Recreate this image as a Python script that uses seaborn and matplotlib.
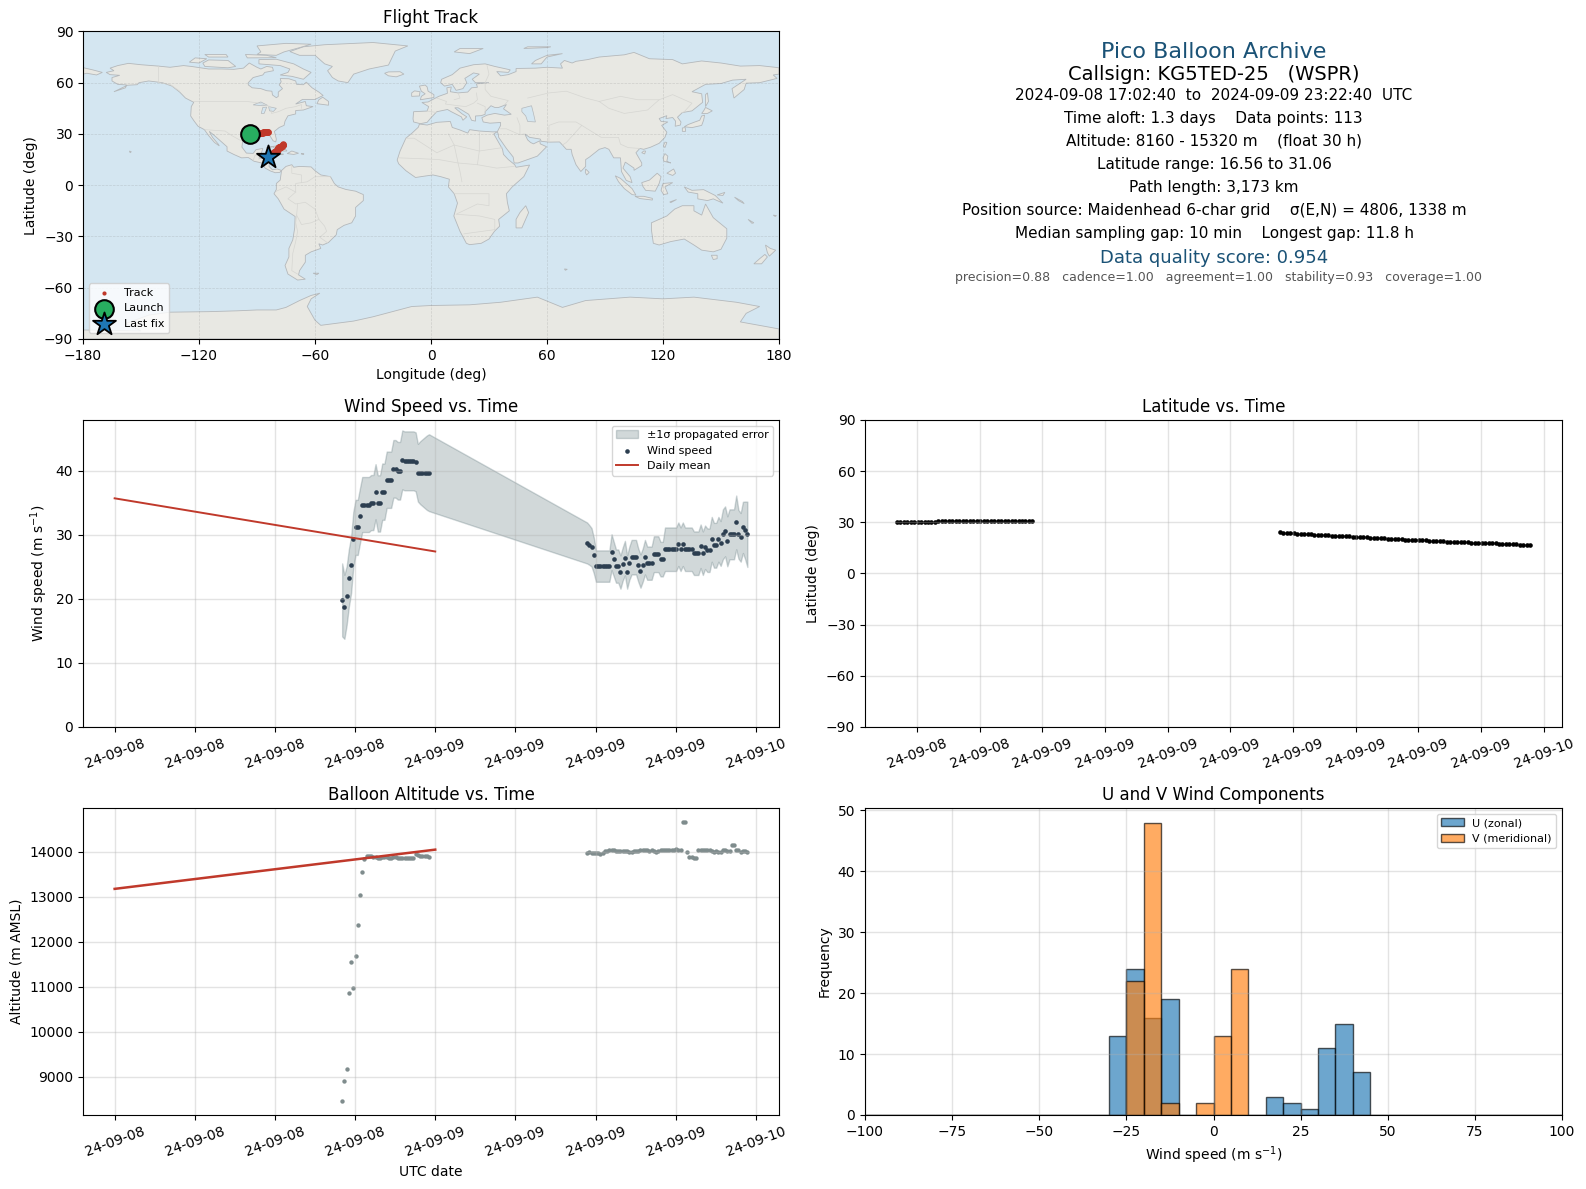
import matplotlib
matplotlib.use('Agg')
import matplotlib.pyplot as plt
import matplotlib.dates as mdates
import numpy as np
import pandas as pd
import seaborn as sns

# minutes after 2024-09-08 00:00 UTC
minutes = [1022, 1032, 1042, 1052, 1062, 1072, 1082, 1092, 1102, 1112, 1122, 1132, 1142, 1152, 1162, 1172, 1182, 1192, 1202, 1212,
           1222, 1232, 1242, 1252, 1262, 1272, 1282, 1292, 1302, 1312, 1322, 1332, 1342, 1352, 1362, 1372, 1382, 1392, 1402, 1412,
           2122, 2132, 2142, 2152, 2162, 2172, 2182, 2192, 2202, 2212, 2222, 2232, 2242, 2252, 2262, 2272, 2282, 2292, 2302, 2312,
           2322, 2332, 2342, 2352, 2362, 2372, 2382, 2392, 2402, 2412, 2422, 2432, 2442, 2452, 2462, 2472, 2482, 2492, 2502, 2512,
           2522, 2532, 2542, 2552, 2562, 2572, 2582, 2592, 2602, 2612, 2622, 2632, 2642, 2652, 2662, 2672, 2682, 2692, 2702, 2712,
           2722, 2732, 2742, 2752, 2762, 2772, 2782, 2792, 2802, 2812, 2822, 2832, 2842]

wind_speed = [19.84, 18.76, 20.47, 23.26, 25.27, 29.3, 31.16, 31.16, 33.0, 34.73, 34.73, 34.73, 34.73, 35.04, 35.04, 36.74, 34.9, 34.9, 36.74, 36.74,
              38.6, 38.6, 38.6, 40.3, 40.3, 40.0, 40.0, 41.7, 41.55, 41.55, 41.55, 41.55, 41.55, 41.4, 39.7, 39.7, 39.7, 39.7, 39.7, 39.7,
              28.73, 28.42, 28.06, 26.82, 25.12, 25.12, 25.12, 25.12, 25.12, 25.12, 25.12, 27.29, 26.2, 25.12, 25.12, 24.19, 25.43, 26.36, 24.19, 25.58,
              26.51, 26.51, 26.51, 25.27, 24.34, 25.27, 26.51, 25.58, 25.58, 25.58, 26.98, 26.98, 26.98, 26.2, 26.2, 27.75, 27.75, 27.75, 27.75, 27.75,
              27.75, 28.53, 27.75, 28.53, 27.75, 27.75, 27.75, 27.75, 27.13, 27.13, 27.13, 28.22, 27.13, 28.06, 27.6, 27.6, 29.3, 28.37, 28.37, 29.3,
              28.65, 30.08, 30.54, 28.99, 30.08, 30.08, 30.08, 31.94, 30.08, 29.61, 31.16, 30.7, 30.08]

wind_sigma = [5.7, 5.0, 4.6, 4.5, 4.4, 4.3, 4.3, 4.3, 4.3, 4.3, 4.3, 4.3, 4.3, 4.3, 4.3, 4.3, 4.4, 4.4, 4.4, 4.4,
              4.4, 4.4, 4.4, 4.5, 4.5, 4.5, 4.5, 4.6, 4.6, 4.6, 4.6, 4.6, 4.6, 4.6, 4.5, 4.9, 5.2, 5.5, 5.8, 6.0,
              3.2, 3.1, 3.0, 2.8, 2.45, 2.45, 2.45, 2.45, 2.45, 2.45, 2.45, 2.8, 2.7, 2.6, 2.6, 2.6, 2.6, 2.7, 2.6, 2.6,
              2.7, 2.7, 2.7, 2.6, 2.6, 2.6, 2.7, 2.6, 2.6, 2.6, 2.8, 2.8, 2.8, 2.7, 2.7, 3.4, 3.4, 3.4, 3.4, 3.4,
              3.4, 3.4, 3.4, 3.4, 3.4, 3.4, 3.4, 3.4, 3.4, 3.4, 3.4, 3.4, 3.4, 3.4, 3.4, 3.4, 3.5, 3.5, 3.5, 3.5,
              3.5, 3.9, 3.9, 3.9, 3.9, 3.9, 3.9, 4.2, 3.8, 3.8, 4.0, 4.5, 5.1]

altitude = [8465, 8910, 9177, 10866, 11555, 10977, 11689, 12378, 13044, 13555, 13844, 13918, 13904, 13904, 13896, 13881, 13859, 13859, 13889, 13889,
            13889, 13874, 13859, 13881, 13889, 13874, 13859, 13859, 13859, 13859, 13859, 13859, 13874, 13956, 13941, 13918, 13904, 13918, 13904, 13889,
            13978, 14000, 13978, 13978, 13978, 13978, 13956, 13978, 14015, 14030, 14037, 14037, 14037, 14015, 14015, 14015, 14015, 14015, 14030, 14007,
            14007, 14030, 14030, 14030, 14052, 14052, 14052, 14037, 14030, 14052, 14015, 14000, 14015, 14044, 14044, 14044, 14044, 14044, 14044, 14052,
            14074, 14052, 14052, 14667, 14667, 14000, 13896, 13889, 13867, 13859, 14044, 14044, 14044, 14044, 14044, 14044, 14015, 14000, 14015, 14000,
            14000, 14044, 14044, 14030, 14030, 14163, 14163, 14052, 14052, 14000, 14022, 14015, 14000]

latitude = [30.0, 30.0, 30.0, 30.0, 30.0, 30.0, 30.0, 30.0, 30.0, 30.0, 30.0, 30.0, 30.6, 30.6, 30.6, 30.6, 30.6, 30.6, 30.6, 30.6,
            30.6, 30.6, 30.6, 30.6, 30.6, 30.6, 30.6, 30.6, 31.06, 31.06, 31.06, 31.06, 31.06, 31.06, 31.06, 31.06, 31.06, 31.06, 31.06, 31.06,
            24.27, 23.68, 23.68, 23.68, 23.68, 23.18, 23.18, 23.18, 23.18, 23.18, 22.49, 22.49, 22.49, 22.49, 22.49, 22.09, 22.09, 22.09, 22.09, 22.09,
            22.09, 21.5, 21.5, 21.5, 21.5, 21.5, 20.71, 20.71, 20.71, 20.71, 20.71, 20.12, 20.12, 20.12, 20.12, 20.12, 19.63, 19.63, 19.63, 19.63,
            19.63, 19.63, 19.63, 19.03, 19.03, 19.03, 19.03, 19.03, 18.44, 18.44, 18.44, 18.44, 18.44, 18.44, 18.44, 17.95, 17.95, 17.95, 17.95, 17.95,
            17.95, 17.95, 17.95, 17.35, 17.35, 17.35, 17.35, 17.35, 17.35, 16.76, 16.76, 16.76, 16.56]

longitude = [-93.4, -93.2, -93.0, -92.7, -92.5, -92.2, -92.0, -91.8, -91.5, -91.3, -91.1, -90.8, -90.6, -90.4, -90.1, -89.9, -89.7, -89.4, -89.2, -89.0,
             -88.7, -88.5, -88.3, -88.0, -87.8, -87.6, -87.3, -87.1, -86.9, -86.6, -86.4, -86.2, -85.9, -85.7, -85.5, -85.2, -85.0, -84.8, -84.5, -84.3,
             -76.4, -76.5, -76.6, -76.7, -76.8, -77.0, -77.1, -77.2, -77.3, -77.4, -77.5, -77.6, -77.7, -77.9, -78.0, -78.1, -78.2, -78.3, -78.4, -78.5,
             -78.6, -78.8, -78.9, -79.0, -79.1, -79.2, -79.3, -79.4, -79.5, -79.7, -79.8, -79.9, -80.0, -80.1, -80.2, -80.3, -80.4, -80.6, -80.7, -80.8,
             -80.9, -81.0, -81.1, -81.2, -81.3, -81.5, -81.6, -81.7, -81.8, -81.9, -82.0, -82.1, -82.2, -82.4, -82.5, -82.6, -82.7, -82.8, -82.9, -83.0,
             -83.1, -83.3, -83.4, -83.5, -83.6, -83.7, -83.8, -83.9, -84.0, -84.2, -84.3, -84.4, -84.5]

# daily means (two dates)
daily_dates = ['2024-09-08', '2024-09-09']
daily_wind = [35.7, 27.4]
daily_alt = [13180, 14052]

# histogram counts on 5 m/s bins
hist_edges = [-100, -95, -90, -85, -80, -75, -70, -65, -60, -55, -50, -45, -40, -35, -30, -25, -20, -15, -10, -5,
              0, 5, 10, 15, 20, 25, 30, 35, 40, 45, 50, 55, 60, 65, 70, 75, 80, 85, 90, 95, 100]
u_bins = [-27.5, -22.5, -17.5, -12.5, 17.5, 22.5, 27.5, 32.5, 37.5, 42.5]
u_counts = [13, 24, 16, 19, 3, 2, 1, 11, 15, 7]
v_bins = [-22.5, -17.5, -12.5, -2.5, 2.5, 7.5]
v_counts = [22, 48, 2, 2, 13, 24]

# rough coast outlines (lon, lat)
land_polys = [
    # North America
    [(-168,66),(-164,67),(-166,68.5),(-162,70),(-156.5,71.3),(-150,70.5),(-141,69.7),(-135,69),(-128,70),(-124,69.5),(-115,68),(-108,68),(-102,67.8),(-97,68.5),(-94,71.5),(-90,69),(-88,68),(-85,69.5),(-82,69),(-81.5,67),(-86,66),(-87,64.5),(-92,63),(-94.5,60),(-94.5,58.7),(-92.5,57),(-88,56.5),(-85,55.3),(-82.3,55),(-82,52.8),(-80,51.2),(-79,52),(-79,54.5),(-76.8,56.5),(-78.5,58.7),(-77.5,60.5),(-78,62.4),(-73.5,62.3),(-70,61),(-69.5,59),(-66,58.8),(-64.5,60.3),(-61.5,57),(-58,54.5),(-55.8,52.5),(-60,50.2),(-66.5,50.2),(-70,47.5),(-65,49),(-64.5,46.5),(-61,46),(-66,44),(-70,43.7),(-70,41.7),(-74,40.6),(-75.5,37.5),(-76,35),(-78.5,33.8),(-81,31.5),(-80,27),(-80.3,25.3),(-81.7,26),(-82.8,28),(-84,30),(-86,30.4),(-89.5,30.2),(-89.3,29),(-93.8,29.7),(-97,28),(-97.5,25),(-97.8,22.3),(-95.5,18.8),(-92,18.6),(-90.5,20.8),(-87,21.5),(-88,17.8),(-88.8,15.8),(-84,15.8),(-83.3,14.9),(-83.8,11),(-82,9),(-79.5,9.5),(-77.3,8.6),(-78.2,7.5),(-80.5,7.3),(-83,8.3),(-85.8,10),(-87.5,13),(-91.5,14),(-94.5,16.2),(-98,16),(-102,18),(-105.5,20),(-105.5,22.5),(-109,26),(-112.5,29.5),(-114.7,31.5),(-113,28),(-110,24),(-109.5,23),(-112,25),(-115,29),(-117.2,32.5),(-120.5,34.5),(-122.5,37.5),(-124.3,40.5),(-124,46),(-122.7,48.5),(-127,51),(-130,54.5),(-134,58),(-139,60),(-146,61),(-151,60),(-152,58.8),(-157,58.5),(-164,54.7),(-158,57),(-157.5,58.7),(-162,59),(-165,61),(-165,63),(-161,64.3),(-166,64.7)],
    # Greenland
    [(-73,78.2),(-68,76),(-60,76),(-55,71),(-51,69.5),(-53.5,67),(-51,63),(-48,61),(-43,60),(-40,65),(-32,68),(-22,70.3),(-20,75),(-18.5,78.5),(-12,81.5),(-30,83.5),(-55,82.2),(-66,81)],
    # Canadian arctic
    [(-62,66),(-66,62),(-72,63.7),(-78,64.5),(-74,66),(-73,68),(-78,70),(-89,71),(-89,73.5),(-80,73.7),(-71,71),(-66,68)],
    [(-117,69.5),(-105,68.7),(-101,69.5),(-105,73),(-115,73.3),(-118,71.5)],
    [(-125,72),(-120,71.5),(-116,74),(-122,74.5)],
    [(-90,76.5),(-80,76),(-76,78),(-68,80.5),(-62,82.5),(-75,83),(-90,81.5),(-88,78)],
    [(-95,74.5),(-80,74.6),(-85,76),(-96,76.5)],
    [(-115,75),(-105,75),(-106,76.5),(-117,76.5)],
    [(-59,47.7),(-53,46.8),(-53,49),(-56,51.5),(-58,50)],
    # South America
    [(-77.3,8.6),(-75,11),(-72,12),(-71,10.5),(-68,11),(-62,10.7),(-60,8.5),(-57,6),(-52,5),(-50,1),(-48,-1),(-44,-2.5),(-39,-3.5),(-35,-5.5),(-35,-9),(-39,-13),(-39,-18),(-41,-22),(-45,-23.5),(-48.5,-26),(-49,-29),(-53,-33.5),(-56,-35),(-58,-34.3),(-57,-37),(-62,-39),(-65,-41),(-65,-45),(-68,-50),(-68.5,-52.5),(-65,-55),(-69,-55.5),(-74,-52),(-75.5,-47),(-73.5,-42),(-73.5,-37),(-71.5,-32),(-70.5,-25),(-70.3,-18.3),(-76,-14),(-79,-8),(-81.2,-5),(-80,-2.5),(-80,1),(-78,3),(-77.5,7)],
    # Africa
    [(-6,35.8),(-2,35.2),(3,36.8),(10,37.3),(11,33.8),(15,32.3),(19,30.5),(20,32.5),(25,31.7),(32,31.2),(34.3,31.3),(32.5,30),(34,27),(37,21),(37.5,18),(40,15),(43.3,12),(44,10.5),(51,11.8),(48,5),(42,-1),(39,-5),(39.5,-10),(40.5,-15),(35,-20),(35.5,-24),(32.8,-27),(30,-31.5),(26,-34),(20,-34.8),(18.3,-34),(15,-27),(11.8,-18),(13.7,-10.5),(12,-5),(9,-1),(9.5,3.5),(5,5),(1,6),(-4,5.2),(-8,4.5),(-13,8.5),(-16.7,12.5),(-17.5,14.7),(-16,20),(-13,27.5),(-9.8,30.5),(-6.5,34)],
    # Eurasia
    [(-9,37),(-9.3,38.8),(-9,43),(-2,43.4),(-1.2,46),(-4.7,48.4),(-1.5,48.7),(1.5,50.5),(4,52),(8.5,53.8),(8.2,57),(10.5,57.5),(10,54.7),(14,54),(19,54.5),(21,57),(24,57.3),(23.5,59.3),(30,60),(23,60),(21.3,62),(25,65),(22,65.7),(17.5,62.5),(18.5,60),(16.5,56.5),(13,55.5),(11,59),(7,58),(5,60),(5.5,62),(11,64.7),(15,68.5),(22,70.5),(28,71),(33,69.5),(41,67.5),(40,66),(34,66.5),(36,64),(40,64.7),(44,66.5),(44,68.3),(54,68.5),(60,69),(68,68.5),(67,71),(69,73),(73,71.5),(75,72.5),(81,73.5),(87,75),(100,76.3),(105,77.7),(113,74),(125,73.5),(130,71),(140,72.7),(150,71.5),(160,69.7),(170,70),(178,69),(180,68.7),(180,65),(177,64.5),(179,62.5),(170,60),(163,59.7),(162,56),(156.7,51),(155.7,56.5),(163,62),(156,61.5),(150,59.5),(142,59),(135,54.7),(140,53.5),(140.5,48.5),(135,43.5),(130,42.5),(127.5,39.8),(129.3,37),(129,35.2),(126.3,34.5),(126.5,37.5),(125,39.6),(121.5,39),(122,40.7),(118,39),(119,37.3),(122.5,37),(119.3,35),(122,31),(121,28),(118,24.5),(113.5,22.2),(110,21),(108,21.5),(106,19),(109,13),(109,11.5),(105,8.7),(105,10),(100.5,13.5),(99.3,10),(103,5),(104,1.5),(101,2.8),(98.5,8),(98,16),(94.5,16),(92,21),(90,22),(87,21),(82,16.5),(80,15),(80,11),(77.5,8),(75,12),(73,18),(72.5,21),(70,21),(68,23.5),(66.5,25.3),(61,25.2),(57,25.7),(56.5,27),(51,28),(48.5,30),(50,26.5),(51.5,25),(53,24.2),(56.3,26),(56.5,24.2),(59.8,22.5),(55,17),(45,13),(43,13),(42.5,16.5),(39,21.5),(35,28),(34.9,29.5),(34.3,31.3),(36,35),(36,36.7),(30.5,36.3),(27,37),(26.3,39.5),(29,41),(33,42),(38,41),(41.5,41.5),(37.5,44.7),(39,47.2),(35,45.5),(33,45.5),(31,46.5),(28,43),(28,41.5),(26,40.7),(23,40.5),(23,37.5),(21,38),(19.5,41.5),(14,45.3),(12.3,45.3),(16,41.8),(18.5,40),(16.5,38),(15.7,40),(10.5,43),(8.5,44.3),(3,43),(0,39.5),(-2,36.8),(-5.5,36)],
    [(-180,68.8),(-175,67.5),(-170,66),(-173,64.5),(-178,65.5),(-180,65)],
    # islands
    [(-5.5,50),(1.5,51.3),(1.5,53),(-1.5,55),(-2,57.5),(-3,58.6),(-6,58),(-5,55),(-3,53.5),(-5,52)],
    [(-10,52),(-6,52.2),(-5.7,54.7),(-8.5,55.2),(-10,54)],
    [(-24,65.5),(-22,64),(-18,63.4),(-14,65),(-16,66.4),(-22,66.3)],
    [(-85,22),(-80,23),(-75,20.7),(-74.5,20),(-78,20),(-82,22.5)],
    [(-74.4,18.5),(-72,20),(-68.5,18.7),(-71,18)],
    [(-78.3,18.4),(-76.3,18.2),(-77,17.8)],
    [(-67.2,18.4),(-65.7,18.4),(-66,18)],
    [(-156,20),(-155,19.6),(-155.6,19)],
    [(131,34.2),(135,33.7),(140,35),(141,38),(141.5,41),(140,40.5),(139,38),(136.5,37),(133,35.5)],
    [(140,42),(143,42),(145.5,43.5),(142,45.5),(141,43.5)],
    [(130,31.5),(131.7,31.5),(131.5,33.7),(130,33.5)],
    [(142,46),(143.5,49),(143,54),(142,53),(142,49)],
    [(120.2,23),(121,22),(122,25),(121,25.2)],
    [(109,19),(110.5,18.3),(111,20),(110,20)],
    [(80,9.5),(81.8,7.5),(80.5,6),(79.8,7.5)],
    [(95.3,5.5),(98,4),(104,-2),(106,-5.8),(104,-5.5),(100,-2),(97,2)],
    [(105.5,-6.5),(110,-6.5),(114.5,-7.7),(114.5,-8.7),(108,-7.8)],
    [(109,1.5),(113,3),(117,7),(119,5),(118,1),(116,-3.5),(111,-3),(109.5,-0.5)],
    [(120,1),(125,1.5),(121,-1),(122.5,-5),(120.3,-5.5),(119,-3)],
    [(131,-1),(135,-3),(141,-2.6),(147,-6),(151,-10.5),(146,-8),(143,-9),(138,-8),(138,-5),(133,-4)],
    [(120,16),(121,18.5),(122.5,17),(122,14),(124,13),(120.5,14)],
    [(122,7),(125.5,9.5),(126.5,7),(125,5.7)],
    [(123.5,-9.8),(127,-8.4),(124,-10.2)],
    [(148,-5.7),(152,-4.2),(151,-6)],
    [(157,-7),(161,-9.5),(162,-10.8),(159,-9)],
    [(164,-20),(167,-22),(166,-22.3)],
    [(177,-17.5),(178.7,-17.8),(178,-18.3)],
    [(69,-49),(70.5,-49.2),(69.5,-49.8)],
    [(114,-22),(122,-18),(126,-14),(130,-12),(136,-12),(136,-15),(140,-17.5),(142,-11),(146,-19),(153,-25.5),(153,-31),(150,-37.5),(146,-39),(140,-38),(136,-35),(131,-31.5),(124,-33),(118,-35),(115,-34),(114,-26)],
    [(145,-41),(148,-41),(148,-43),(146,-43.5)],
    [(173,-35),(175.5,-37),(178.3,-38),(175,-41.5),(174,-39.5)],
    [(172.7,-40.5),(174,-42),(171,-46),(167,-46),(170,-43)],
    [(49,-12),(50.5,-16),(47,-25),(44,-25),(44,-20),(46,-16)],
    [(52,71),(57,71),(60,75),(68,77),(60,76),(54,73)],
    [(12,78),(20,77),(27,80),(15,80)],
    [(48,80),(60,80.5),(62,81),(50,81)],
    [(-61,-51.5),(-58,-51.5),(-59,-52.3)],
    # Antarctica
    [(-180,-90),(-180,-84.7),(-150,-85.3),(-158,-81),(-146,-76),(-135,-74.3),(-115,-74),(-100,-73.5),(-90,-73),(-80,-73),(-75,-71.5),(-68,-67.5),(-62,-64.5),(-57.5,-63.2),(-62,-66.5),(-64,-71),(-62,-75),(-60,-79),(-57,-82),(-40,-79.5),(-30,-77),(-20,-74),(-10,-71),(0,-70.4),(20,-70),(36,-68.5),(55,-65.5),(68,-71.5),(80,-67.5),(103,-65.5),(120,-66.5),(136,-65.5),(158,-68.5),(170,-71),(163,-75),(160,-80),(180,-84.1),(180,-90)],
]

lake_polys = [
    [(47,45),(52,46.5),(53,42),(54,37),(50,37.3),(49,40.5),(47,43)],
    [(-92,47),(-88,48.7),(-84.5,46.7),(-87,46.5)],
    [(-87.8,42),(-86.3,42),(-85,45.7),(-87,45.5)],
    [(-84,46),(-80,45),(-81.5,43.2),(-83.5,43.5)],
]

border_lines = [
    [(-123,49),(-95,49),(-89,48),(-83,46),(-82.5,42),(-79,43),(-75,45),(-70,46),(-67,47.2),(-67,45)],
    [(-117,32.5),(-106.5,31.7),(-103,29),(-99,26.5),(-97.3,26)],
    [(-141,69.7),(-141,60),(-135,59),(-130,55)],
    [(-92,14.5),(-91,17.5),(-89,17.8),(-89,15)],
    [(-52,5),(-60,5),(-64,2),(-70,1),(-70,-4),(-74,-8),(-70,-11),(-65,-10),(-60,-14),(-58,-20),(-55,-24),(-54,-27),(-57.5,-30.5),(-53.5,-33.7)],
    [(-69.5,-17.5),(-70,-22),(-69,-27),(-70,-33),(-71.5,-40),(-72,-50),(-69,-52)],
    [(-69,-11),(-69.5,-17.5),(-67,-23),(-62,-22),(-58,-20)],
    [(-72,11.5),(-72,7),(-67,6),(-67,1.5)],
    [(-80,-3.5),(-75,-1),(-70,-4)],
    [(-13,27.5),(-8.7,27.5),(3,19),(12,23.5),(25,20),(37,22)],
    [(9,30),(12,23.5),(14,13),(15,8),(16,2)],
    [(-16.5,16),(-5,15.5),(4,15),(14,13),(24,12),(34,10),(43,11)],
    [(25,31.5),(25,20),(24,12)],
    [(12,-5),(30,-5),(30,-12),(24,-11),(13,-17),(25,-18),(33,-20),(33,-26),(20,-28),(17,-28.5)],
    [(-2,43.4),(3,42.5)],
    [(3,51),(8,49),(7.5,47.5),(14,46.5),(18,46),(22,48),(24,50),(23.5,54)],
    [(14,54),(15,51),(12,50)],
    [(28,60),(28,56),(31,52),(40,49.5),(38,47)],
    [(24,48),(28,46),(28,43)],
    [(28,60),(30,65),(29,70)],
    [(36,33),(39,33),(46,29.5),(48,30)],
    [(44.5,39.5),(46,35),(46,30)],
    [(61,25),(61,35),(66,37),(75,37),(78,35),(74,30),(70,25),(68,23.5)],
    [(50,51),(61,54),(70,55),(80,51),(87,49)],
    [(87,49),(98,52),(107,50),(118,50),(112,44),(100,42),(92,45),(87,49)],
    [(78,35),(88,28),(97,28),(98,24),(102,22),(108,21.5)],
    [(118,50),(125,53),(135,48),(131,43),(130,42.5)],
]

FIG_W, FIG_H = 1586, 1189
GRID = dict(color='#b0b0b0', alpha=0.35, linewidth=1.0)


def add_ax(fig, left, top, right, bottom):
    """pixel box -> axes"""
    return fig.add_axes([left / FIG_W, 1 - bottom / FIG_H, (right - left) / FIG_W, (bottom - top) / FIG_H])


def date_axis(ax, hours):
    ax.xaxis.set_major_locator(mdates.HourLocator(byhour=range(0, 24, hours)))
    ax.xaxis.set_major_formatter(mdates.DateFormatter('%y-%m-%d'))
    ax.tick_params(axis='x', rotation=20)
    ax.grid(True, **GRID)
    ax.set_xlabel('')


df = pd.DataFrame({
    'time': pd.Timestamp('2024-09-08') + pd.to_timedelta(minutes, unit='m'),
    'wind': wind_speed,
    'sigma': wind_sigma,
    'alt': altitude,
    'lat': latitude,
    'lon': longitude,
})
daily = pd.DataFrame({'date': pd.to_datetime(daily_dates), 'wind': daily_wind, 'alt': daily_alt})

fig = plt.figure(figsize=(FIG_W / 100, FIG_H / 100), dpi=100)

# --- map
ax = add_ax(fig, 83, 31.4, 779, 339)
ax.set_facecolor('#D4E6F1')
for poly in land_polys:
    lons, lats = zip(*poly)
    ax.fill(lons, lats, facecolor='#E8E8E3', edgecolor='#b4b8bb', linewidth=0.6, zorder=1)
for poly in lake_polys:
    lons, lats = zip(*poly)
    ax.fill(lons, lats, facecolor='#D4E6F1', edgecolor='#b4b8bb', linewidth=0.5, zorder=1.1)
for line in border_lines:
    lons, lats = zip(*line)
    ax.plot(lons, lats, color='#d6d6d2', linewidth=0.5, zorder=1.2)
ax.grid(True, color='gray', alpha=0.25, linewidth=0.5, linestyle='--')
# thick track, small dots only in the legend
sns.scatterplot(data=df, x='lon', y='lat', s=22, color='#c0392b', linewidth=0, zorder=5, ax=ax)
sns.scatterplot(data=df, x='lon', y='lat', s=9, color='#c0392b', linewidth=0, zorder=5, label='Track', ax=ax)
sns.scatterplot(x=longitude[:1], y=latitude[:1], s=180, color='#27ae60', edgecolor='black', linewidth=1.5,
                zorder=6, label='Launch', ax=ax)
sns.scatterplot(x=longitude[-1:], y=latitude[-1:], s=300, marker='*', color='#1f77b4', edgecolor='black', linewidth=1.3,
                zorder=7, label='Last fix', ax=ax)
ax.set_xlim(-180, 180)
ax.set_ylim(-90, 90)
ax.set_xticks(range(-180, 181, 60))
ax.set_yticks(range(-90, 91, 30))
ax.set_xticklabels(['\u2212180', '\u2212120', '\u221260', '0', '60', '120', '180'])
ax.set_xlabel('Longitude (deg)')
ax.set_ylabel('Latitude (deg)')
ax.set_title('Flight Track', fontsize=12)
ax.legend(loc='lower left', fontsize=8, framealpha=0.8)

# --- summary text
tx = add_ax(fig, 865, 31.4, 1562, 338.5)
tx.axis('off')
summary_lines = [
    ('Pico Balloon Archive', 52, 16, '#1a5276', 0.5),
    ('Callsign: KG5TED-25   (WSPR)', 74, 14, 'black', 0.5),
    ('2024-09-08 17:02:40  to  2024-09-09 23:22:40  UTC', 95.5, 11, 'black', 0.5),
    ('Time aloft: 1.3 days    Data points: 113', 118.5, 11, 'black', 0.5),
    ('Altitude: 8160 - 15320 m    (float 30 h)', 141.5, 11, 'black', 0.5),
    ('Latitude range: 16.56 to 31.06', 164.5, 11, 'black', 0.502),
    ('Path length: 3,173 km', 187.5, 11, 'black', 0.5),
    ('Position source: Maidenhead 6-char grid    \u03c3(E,N) = 4806, 1338 m', 210.5, 11, 'black', 0.501),
    ('Median sampling gap: 10 min    Longest gap: 11.8 h', 233.5, 11, 'black', 0.501),
    ('Data quality score: 0.954', 258, 13, '#1a5276', 0.501),
    ('precision=0.88   cadence=1.00   agreement=1.00   stability=0.93   coverage=1.00', 278, 9, '#555555', 0.507),
]
for text, py, size, color, px in summary_lines:
    tx.text(px, 1 - (py - 31.4) / 307.1, text, ha='center', va='center', fontsize=size, color=color,
            transform=tx.transAxes)

# --- wind speed
ax = add_ax(fig, 83, 420, 779, 727)
ax.fill_between(df['time'], df['wind'] - df['sigma'], df['wind'] + df['sigma'], color='#2f4f55', alpha=0.22,
                label='\u00b11\u03c3 propagated error')
sns.scatterplot(data=df, x='time', y='wind', s=11, color='#2c3e50', linewidth=0, label='Wind speed', ax=ax)
sns.lineplot(data=daily, x='date', y='wind', color='#c0392b', linewidth=1.4, label='Daily mean', ax=ax)
date_axis(ax, 6)
ax.set_ylim(bottom=0)
ax.set_ylabel('Wind speed (m s$^{-1}$)')
ax.set_title('Wind Speed vs. Time', fontsize=12)
ax.legend(loc='upper right', fontsize=8)

# --- latitude
ax = add_ax(fig, 865, 420, 1562, 727)
sns.scatterplot(data=df, x='time', y='lat', s=11, color='black', linewidth=0, ax=ax)
date_axis(ax, 3)
ax.set_ylim(-90, 90)
ax.set_yticks(range(-90, 91, 30))
ax.set_ylabel('Latitude (deg)')
ax.set_title('Latitude vs. Time', fontsize=12)

# --- altitude
ax = add_ax(fig, 83, 808, 779, 1115)
sns.scatterplot(data=df, x='time', y='alt', s=10, color='#7f8c8d', linewidth=0, ax=ax)
sns.lineplot(data=daily, x='date', y='alt', color='#c0392b', linewidth=1.8, ax=ax)
date_axis(ax, 6)
ax.set_xlabel('UTC date')
ax.set_ylabel('Altitude (m AMSL)')
ax.set_title('Balloon Altitude vs. Time', fontsize=12)

# --- U / V histogram
ax = add_ax(fig, 865, 808, 1562, 1115)
edge_rgba = (0, 0, 0, 0.65)
sns.histplot(x=u_bins, weights=u_counts, bins=hist_edges, color='#1f77b4', alpha=0.65, edgecolor=edge_rgba,
             linewidth=1, label='U (zonal)', ax=ax)
sns.histplot(x=v_bins, weights=v_counts, bins=hist_edges, color='#ff7f0e', alpha=0.65, edgecolor=edge_rgba,
             linewidth=1, label='V (meridional)', ax=ax)
ax.set_xlim(-100, 100)
ax.grid(True, **GRID)
ax.set_xlabel('Wind speed (m s$^{-1}$)')
ax.set_ylabel('Frequency')
ax.set_title('U and V Wind Components', fontsize=12)
ax.legend(loc='upper right', fontsize=8)

fig.savefig('out.png', dpi=100, facecolor='white')
